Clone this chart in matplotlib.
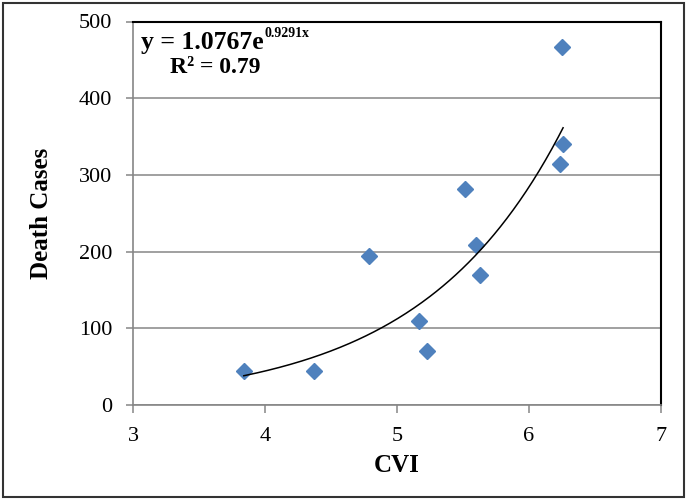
import numpy as np
import matplotlib
matplotlib.use("Agg")
import matplotlib.pyplot as plt
from matplotlib.patches import Rectangle

# Data
cvi = [3.84, 4.37, 4.79, 5.17, 5.23, 5.52, 5.60, 5.63, 6.24, 6.26, 6.25]
deaths = [44, 44, 194, 109, 70, 281, 209, 170, 314, 340, 467]

# Exponential trendline coefficients as shown
coef_a = 1.0767
coef_b = 0.9291
r_squared = 0.79

x_ticks = [3, 4, 5, 6, 7]
y_ticks = [0, 100, 200, 300, 400, 500]

plt.rcParams['font.family'] = ['Liberation Serif', 'DejaVu Serif']

fig = plt.figure(figsize=(6.88, 5.0), dpi=100)
ax = fig.add_axes([133/688, 1-405/500, (660.7-133)/688, (405-21.5)/500])

grey = '#868686'
ax.set_xlim(3, 7)
ax.set_ylim(0, 500)
ax.set_xticks(x_ticks)
ax.set_yticks(y_ticks)
ax.yaxis.grid(True, color=grey, linewidth=1.1)
ax.set_axisbelow(True)

for s in ['left', 'bottom']:
    ax.spines[s].set_color(grey)
    ax.spines[s].set_linewidth(1.2)
for s in ['top', 'right']:
    ax.spines[s].set_color('black')
    ax.spines[s].set_linewidth(1.5)

ax.tick_params(axis='both', direction='out', color=grey, width=1.1,
               labelsize=16, labelcolor='black')
ax.tick_params(axis='y', length=5, pad=10)
ax.tick_params(axis='x', length=6, pad=10)

ax.plot(cvi, deaths, linestyle='none', marker='D', markersize=8.5,
        color='#4F81BD', markeredgecolor='#4F81BD', zorder=3)

xs = np.linspace(min(cvi), max(cvi), 200)
ax.plot(xs, coef_a * np.exp(coef_b * xs), color='black', linewidth=1.1, zorder=4)

base = fig.text(141/688, 1-49/500, "y = %.4fe" % coef_a,
                fontsize=18.5, fontweight='bold', ha='left', va='baseline')
fig.canvas.draw()
bb = base.get_window_extent(renderer=fig.canvas.get_renderer())
fig.text(bb.x1/688 + 0.5/688, 1-37/500, "%.4fx" % coef_b,
         fontsize=10, fontweight='bold', ha='left', va='baseline')
fig.text(170/688, 1-73/500, "R² = %.2f" % r_squared, fontsize=17,
         fontweight='bold', ha='left', va='baseline')

fig.text(397/688, 1-466/500, "CVI", fontsize=18, fontweight='bold',
         ha='center', va='center')
fig.text(42/688, 1-213/500, "Death Cases", fontsize=18, fontweight='bold',
         ha='center', va='center', rotation=90)

fig.patches.append(Rectangle((3/688, 3/500), 681/688, 494/500, transform=fig.transFigure,
                             fill=False, edgecolor='#333333', linewidth=1.5))

fig.savefig("out.png", dpi=100)
